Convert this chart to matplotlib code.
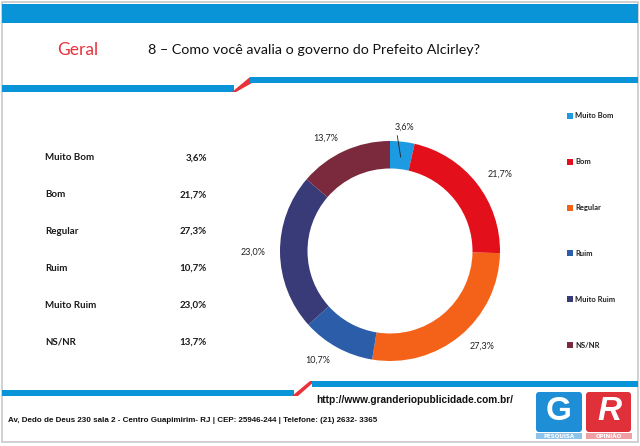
import matplotlib
matplotlib.use("Agg")
import matplotlib.pyplot as plt
from matplotlib.patches import Rectangle, Polygon, FancyBboxPatch
import numpy as np

# dados da pesquisa
categorias = ['Muito Bom', 'Bom', 'Regular', 'Ruim', 'Muito Ruim', 'NS/NR']
valores = [3.6, 21.7, 27.3, 10.7, 23.0, 13.7]
cores = ['#1D9BE2', '#E3101B', '#F4621A', '#2B5DA9', '#383B77', '#7A2A3C']
rotulos = [f"{v:.1f}".replace('.', ',') + '%' for v in valores]

titulo = '8 – Como você avalia o governo do Prefeito Alcirley?'
site = 'http://www.granderiopublicidade.com.br/'
endereco = 'Av, Dedo de Deus 230 sala 2 - Centro Guapimirim- RJ | CEP: 25946-244 | Telefone: (21) 2632- 3365'

FONTE = ['Lato', 'DejaVu Sans']
FONTE2 = ['Liberation Sans Narrow', 'Liberation Sans', 'DejaVu Sans']
AZUL = '#0A94D8'
VERMELHO = '#E8323C'

W, H = 640, 446
fig = plt.figure(figsize=(6.4, 4.46), dpi=100)
fig.patch.set_facecolor('white')

# fundo em coordenadas de pixel
bg = fig.add_axes([0, 0, 1, 1])
bg.set_xlim(0, W)
bg.set_ylim(H, 0)
bg.axis('off')

# moldura
bg.add_patch(Rectangle((1.5, 1.5), 636, 440, fill=False, ec='#C8C8C8', lw=1.2))

# faixa superior
bg.add_patch(Rectangle((2, 4), 636, 19, color=AZUL, lw=0))

# linha abaixo do titulo
bg.add_patch(Rectangle((2, 85), 232, 7, color=AZUL, lw=0))
bg.add_patch(Polygon([(232, 92), (250, 77), (252, 83), (236, 92)], color=VERMELHO, lw=0))
bg.add_patch(Rectangle((250, 77), 388, 6, color=AZUL, lw=0))

bg.text(57, 50, 'Geral', color=VERMELHO, fontsize=12.5, family=FONTE, va='center', ha='left')
bg.text(148, 50, titulo, color='#111111', fontsize=10.3, family=FONTE, va='center', ha='left')

# tabela da esquerda
ys = np.linspace(158, 342, len(categorias))
for cat, rot, y in zip(categorias, rotulos, ys):
    bg.text(45, y, cat, fontsize=7, family=FONTE, weight='bold', color='#1a1a1a', va='center')
    bg.text(207, y, rot, fontsize=7, family=FONTE, weight='bold', color='#1a1a1a', va='center', ha='right')

# legenda
ly = np.linspace(116, 345, len(categorias))
for cat, cor, y in zip(categorias, cores, ly):
    bg.add_patch(Rectangle((567, y - 3), 6, 6, color=cor, lw=0))
    bg.text(575, y, cat, fontsize=5.5, family=FONTE, weight='bold', color='#222222', va='center')

# linha inferior
bg.add_patch(Rectangle((2, 390), 292, 6, color=AZUL, lw=0))
bg.add_patch(Polygon([(292, 396), (310, 381), (315, 381), (298, 396)], color=VERMELHO, lw=0))
bg.add_patch(Rectangle((312, 381), 326, 6, color=AZUL, lw=0))

bg.text(316, 400, site, fontsize=7.3, family=FONTE2, weight='bold', color='#111111', va='center')
bg.text(8, 421, endereco, fontsize=5.8, family=FONTE2, weight='bold', color='#111111', va='center')

# logo
bg.add_patch(FancyBboxPatch((537, 393), 44, 38, boxstyle='round,pad=1,rounding_size=3', color='#1E8FD6', lw=0))
bg.add_patch(FancyBboxPatch((587, 393), 43, 38, boxstyle='round,pad=1,rounding_size=3', color='#E0303A', lw=0))
bg.text(559, 412, 'G', fontsize=24, weight='bold', color='white', ha='center', va='center', family=FONTE2)
bg.text(609, 412, 'R', fontsize=24, weight='bold', style='italic', color='white', ha='center', va='center', family=FONTE2)
bg.add_patch(Rectangle((536, 433), 46, 6, color='#8FC4EA', lw=0))
bg.add_patch(Rectangle((586, 433), 46, 6, color='#F0A0A5', lw=0))
bg.text(559, 436, 'PESQUISA', fontsize=4, weight='bold', color='white', ha='center', va='center')
bg.text(609, 436, 'OPINIÃO', fontsize=4, weight='bold', color='white', ha='center', va='center')

# grafico de rosca
cx, cy, r = 390, 251, 110
ax = fig.add_axes([(cx - r) / W, (H - cy - r) / H, 2 * r / W, 2 * r / H])
wedges, _ = ax.pie(valores, colors=cores, startangle=90, counterclock=False,
                   wedgeprops=dict(width=0.25, edgecolor='none'))
ax.set_xlim(-1, 1)
ax.set_ylim(-1, 1)
ax.set_aspect('equal')
ax.axis('off')

for w, rot in zip(wedges, rotulos):
    ang = np.deg2rad((w.theta1 + w.theta2) / 2)
    x, y = np.cos(ang), np.sin(ang)
    ha = 'left' if x > 0.3 else ('right' if x < -0.3 else 'center')
    ax.text(1.13 * x, 1.13 * y, rot, fontsize=6.5, family=FONTE, color='#222222',
            ha=ha, va='center', clip_on=False)

# linha guia da menor fatia
w0 = wedges[0]
a0 = np.deg2rad((w0.theta1 + w0.theta2) / 2)
ax.plot([0.86 * np.cos(a0), 1.05 * np.cos(a0 + 0.05)], [0.86 * np.sin(a0), 1.05 * np.sin(a0 + 0.05)],
        color='#222222', lw=0.6, clip_on=False)

fig.savefig('out.png', dpi=100)
